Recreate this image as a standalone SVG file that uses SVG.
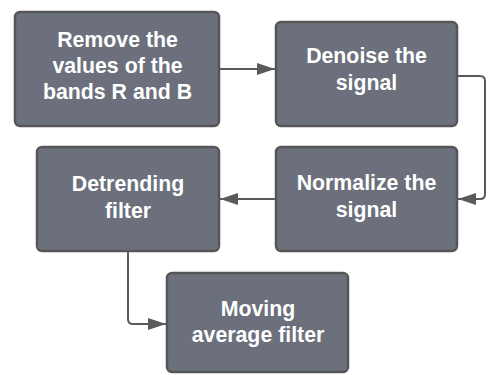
<svg xmlns="http://www.w3.org/2000/svg" width="492" height="375" viewBox="0 0 492 375">
<style>
.box{fill:#6b707c;stroke:#565656;stroke-width:2.5}
.lbl{fill:#ffffff;font-family:"Liberation Sans",Arial,sans-serif;font-weight:bold;font-size:21.3px;text-anchor:middle}
.con{fill:none;stroke:#5a5a5a;stroke-width:2}
</style>
<defs>
<marker id="ah" viewBox="0 0 18 12" refX="18" refY="6" markerWidth="18" markerHeight="12" markerUnits="userSpaceOnUse" orient="auto">
<path d="M0,0 L18,6 L0,12 Z" fill="#5a5a5a"/>
</marker>
</defs>
<rect width="492" height="375" fill="#ffffff"/>
<g id="connectors">
<path class="con" d="M219,69 H275" marker-end="url(#ah)"/>
<path class="con" d="M457,76 H480 Q485,76 485,81 V194 Q485,199 480,199 H458" marker-end="url(#ah)"/>
<path class="con" d="M276,199 H220" marker-end="url(#ah)"/>
<path class="con" d="M128,251 V319 Q128,324 133,324 H166" marker-end="url(#ah)"/>
</g>
<g id="n1">
<rect class="box" x="15" y="12" width="204" height="114" rx="5"/>
<text class="lbl" x="117.5" y="47">Remove the</text>
<text class="lbl" x="117.5" y="73">values of the</text>
<text class="lbl" x="117.5" y="99">bands R and B</text>
</g>
<g id="n2">
<rect class="box" x="276" y="22" width="181" height="104" rx="5"/>
<text class="lbl" x="366.5" y="63">Denoise the</text>
<text class="lbl" x="366.5" y="90">signal</text>
</g>
<g id="n3">
<rect class="box" x="37" y="147" width="182" height="104" rx="5"/>
<text class="lbl" x="128" y="191">Detrending</text>
<text class="lbl" x="128" y="218">filter</text>
</g>
<g id="n4">
<rect class="box" x="276" y="147" width="181" height="104" rx="5"/>
<text class="lbl" x="366.5" y="190">Normalize the</text>
<text class="lbl" x="366.5" y="217">signal</text>
</g>
<g id="n5">
<rect class="box" x="167" y="273" width="181" height="99" rx="5"/>
<text class="lbl" x="258" y="316">Moving</text>
<text class="lbl" x="258" y="342">average filter</text>
</g>
</svg>
